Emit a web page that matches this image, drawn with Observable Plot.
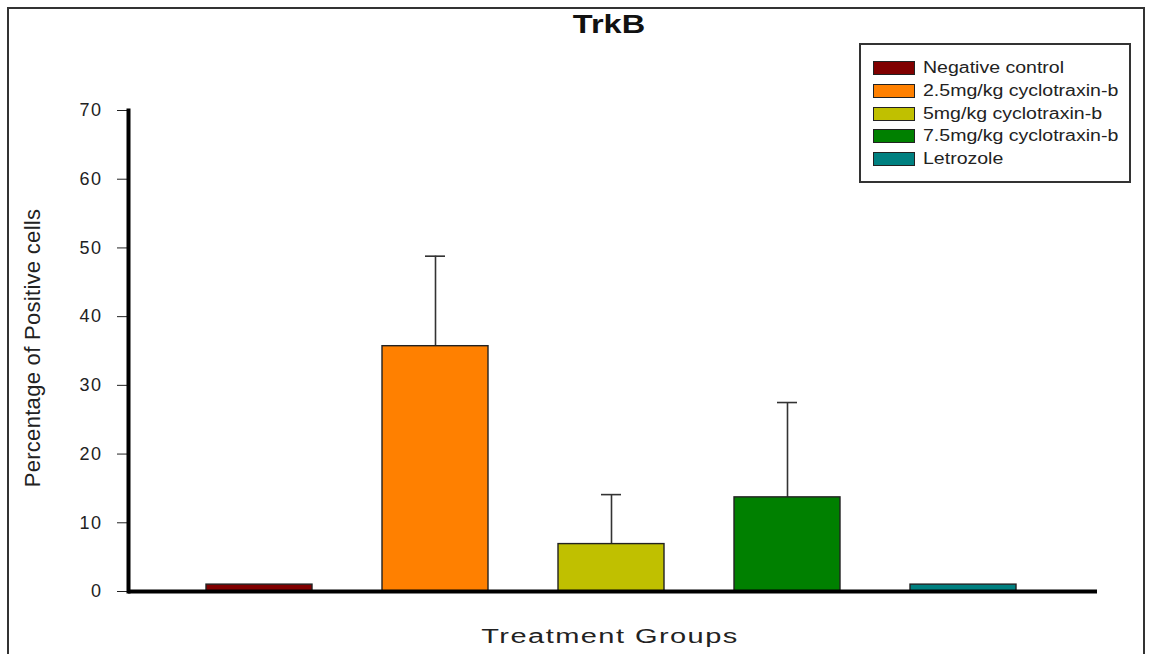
<!DOCTYPE html>
<html>
<head>
<meta charset="utf-8">
<script src="https://cdn.jsdelivr.net/npm/d3@7"></script>
<script src="https://cdn.jsdelivr.net/npm/@observablehq/plot@0.6"></script>
<style>
  html, body { margin: 0; padding: 0; background: #fff; }
  #wrap { position: relative; width: 1149px; height: 654px; overflow: hidden; font-family: Arial, "Liberation Sans", sans-serif; }
  #border { position: absolute; left: 7px; top: 7px; width: 1138px; height: 660px; border: 2px solid #333; box-sizing: border-box; }
  #title { position: absolute; left: 609px; top: 10px; transform: translateX(-50%) scaleX(1.3); white-space: nowrap; font-size: 25px; font-weight: bold; color: #111; }
  #ylab { position: absolute; left: 33px; top: 348px; transform: translate(-50%, -50%) rotate(-90deg); white-space: nowrap; font-size: 22px; letter-spacing: 0.3px; color: #222; }
  #xlab { position: absolute; left: 610px; top: 625px; transform: translateX(-50%) scaleX(1.45); white-space: nowrap; font-size: 20px; letter-spacing: 1px; color: #222; }
  #legend { position: absolute; left: 859px; top: 43px; width: 272px; height: 140px; border: 2px solid #333; box-sizing: border-box; background: #fff; }
  .item { position: absolute; left: 12px; height: 22px; display: flex; align-items: center; font-size: 16px; color: #222; white-space: nowrap; }
  .item span { display: inline-block; transform: scaleX(1.22); transform-origin: left center; }
  .sw { width: 40px; height: 12px; border: 1px solid #222; margin-right: 8px; }
  #chart { position: absolute; left: 0; top: 0; }
  #chart svg g[aria-label="y-axis tick label"] text { letter-spacing: 1.5px; }
</style>
</head>
<body>
<div id="wrap">
  <div id="chart"></div>
  <div id="border"></div>
  <div id="title">TrkB</div>
  <div id="ylab">Percentage of Positive cells</div>
  <div id="xlab">Treatment Groups</div>
  <div id="legend"></div>
</div>
<script>
const groups = ["Negative control", "2.5mg/kg cyclotraxin-b", "5mg/kg cyclotraxin-b", "7.5mg/kg cyclotraxin-b", "Letrozole"];
const means = [1.0, 35.7, 6.9, 13.7, 1.0];
const errors = [0, 13.1, 7.2, 13.8, 0];
const colors = ["#800000", "#FF8000", "#C0C000", "#008000", "#008080"];
const yTicks = [0, 10, 20, 30, 40, 50, 60, 70];

const data = groups.map((g, i) => ({group: g, mean: means[i], err: errors[i], top: means[i] + errors[i]}));
const errData = data.filter(d => d.err > 0);

const chart = Plot.plot({
  width: 1149,
  height: 654,
  marginLeft: 128,
  marginRight: 52,
  marginTop: 110,
  marginBottom: 63,
  style: {fontFamily: "Arial, 'Liberation Sans', sans-serif", fontSize: "18px", color: "#222", background: "transparent"},
  x: {domain: groups, paddingInner: 0.4, paddingOuter: 0.45, align: 0.487, axis: null},
  y: {domain: [0, 70], ticks: yTicks, tickSize: 11, tickPadding: 15, label: null},
  color: {domain: groups, range: colors},
  marks: [
    Plot.ruleX(errData, {x: "group", y1: "mean", y2: "top", stroke: "#333", strokeWidth: 1.6}),
    Plot.tickY(errData, {x: "group", y: "top", stroke: "#333", strokeWidth: 1.6, insetLeft: 43, insetRight: 43}),
    Plot.barY(data, {x: "group", y: "mean", fill: "group", stroke: "#222", strokeWidth: 1.4}),
    Plot.ruleY([0], {stroke: "#000", strokeWidth: 4}),
    Plot.frame({anchor: "left", stroke: "#000", strokeWidth: 4})
  ]
});
document.getElementById("chart").appendChild(chart);

const legend = document.getElementById("legend");
groups.forEach((g, i) => {
  const it = document.createElement("div");
  it.className = "item";
  it.style.top = (12 + i * 22.75) + "px";
  const sw = document.createElement("div");
  sw.className = "sw";
  sw.style.background = colors[i];
  it.appendChild(sw);
  const t = document.createElement("span");
  t.textContent = g;
  it.appendChild(t);
  legend.appendChild(it);
});
</script>
</body>
</html>
